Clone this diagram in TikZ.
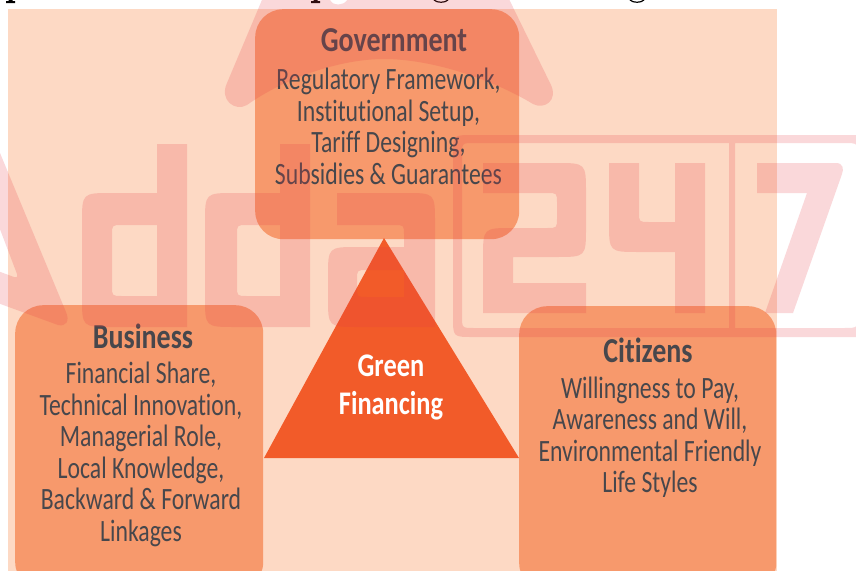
\documentclass[tikz,border=0pt]{standalone}
\usepackage{fontspec}
\setmainfont[FakeStretch=0.765,Ligatures=NoCommon]{Carlito}
\newfontfamily\headf[FakeStretch=0.80,Ligatures=NoCommon]{Carlito}
\tikzset{
  every picture/.style={x=1pt,y=-1pt},
  panel/.style={rectangle,rounded corners=28pt,fill=panelc,draw=none,inner sep=0pt,anchor=north west},
  heading/.style={anchor=center,align=center,text=inkc,font=\headf\fontsize{35}{38}\selectfont\bfseries},
  body/.style={anchor=north,align=center,text=inkc,font=\fontsize{31}{31.6}\selectfont},
  centre/.style={anchor=center,align=center,text=white,font=\headf\fontsize{33}{38}\selectfont\bfseries},
  wm/.style={fill=wmc,fill opacity=0.2,even odd rule,draw=none},
}
\definecolor{bgc}{HTML}{FDD9C4}
\definecolor{panelc}{HTML}{F7996C}
\definecolor{triac}{HTML}{F25B29}
\definecolor{inkc}{HTML}{47474C}
\definecolor{wmc}{RGB}{230,60,70}
\begin{document}
\begin{tikzpicture}
\useasboundingbox (0,0) rectangle (856,570);
\clip (0,0) rectangle (856,570);
\fill[white] (0,0) rectangle (856,570);
% cut-off remains of a line above the figure
\fill[black] (6,3) rectangle (15,1) (8.5,1) rectangle (12.5,0);
\fill[black] (311,3) rectangle (320,1) (313.5,1) rectangle (317.5,0);
\draw[black,line width=1.2pt] (434,0) .. controls (437,3) and (445,3) .. (448,0);
\draw[black,line width=1.2pt] (630,0) .. controls (633,3) and (641,3) .. (644,0);
% backdrop
\node[fill=bgc,inner sep=0pt,minimum width=769pt,minimum height=570pt,anchor=north west] (backdrop) at (8,9) {};
% panels
\node[panel,minimum width=264pt,minimum height=230pt] (gov) at (255,9) {};
\node[panel,minimum width=248pt,minimum height=285pt] (bus) at (15,305) {};
\node[panel,minimum width=257pt,minimum height=285pt] (cit) at (519,306) {};
% triangle
\fill[triac] (384,238) -- (519,458) -- (264,458) -- cycle;
% texts
\node[heading] (govh) at (394,40) {Government};
\node[body] (govt) at (388.5,64.5) {Regulatory Framework,\\Institutional Setup,\\Tariff Designing,\\Subsidies \& Guarantees};
\node[heading] (bush) at (143,336) {Business};
\node[body] (bust) at (141,358.5) {Financial Share,\\Technical Innovation,\\Managerial Role,\\Local Knowledge,\\Backward \& Forward\\Linkages};
\node[heading] (cith) at (648,350) {Citizens};
\node[body] (citt) at (650,373) {Willingness to Pay,\\Awareness and Will,\\Environmental Friendly\\Life Styles};
\node[centre] (green) at (391,387) {Green\\Financing};
% watermark
% A
\fill[wm] (-5,141) -- (66,312) .. controls (70,321) and (66,327) .. (58,325) -- (-5,302) -- (-5,270) -- (14,277) .. controls (17,278) and (18,276) .. (17,274) -- (-5,216) -- cycle;
% d
\fill[wm] (157,144) -- (187,144) -- (187,327) -- (112,327) .. controls (82,327) .. (82,297) -- (82,223) .. controls (82,193) .. (112,193) -- (157,193) -- cycle
  (157,225) -- (122,225) .. controls (112,225) .. (112,235) -- (112,286) .. controls (112,296) .. (122,296) -- (157,296) -- cycle;
% d
\fill[wm] (280,144) -- (310,144) -- (310,327) -- (235,327) .. controls (205,327) .. (205,297) -- (205,223) .. controls (205,193) .. (235,193) -- (280,193) -- cycle
  (280,225) -- (247,225) .. controls (237,225) .. (237,235) -- (237,286) .. controls (237,296) .. (247,296) -- (280,296) -- cycle;
% a
\fill[wm] (337,193) -- (405,193) .. controls (435,193) .. (435,223) -- (435,327) -- (358,327) .. controls (328,327) .. (328,297) -- (328,277) .. controls (328,247) .. (358,247) -- (404,247) -- (404,235) .. controls (404,225) .. (394,225) -- (337,225) -- cycle
  (404,270) -- (367,270) .. controls (357,270) .. (357,280) -- (357,287) .. controls (357,297) .. (367,297) -- (404,297) -- cycle;
% 2
\fill[wm] (483,163) -- (556,163) .. controls (586,163) .. (586,193) -- (586,227) .. controls (586,257) .. (556,257) -- (513,257) -- (513,283) -- (586,283) -- (586,313) -- (483,313) -- (483,258) .. controls (483,228) .. (513,228) -- (547,228) .. controls (557,228) .. (557,218) -- (557,203) .. controls (557,193) .. (547,193) -- (483,193) -- cycle;
% 4
\fill[wm] (609,163) -- (639,163) -- (639,212) .. controls (639,222) .. (649,222) -- (675,222) -- (675,163) -- (705,163) -- (705,313) -- (675,313) -- (675,252) -- (639,252) .. controls (609,252) .. (609,222) -- cycle;
% 7
\fill[wm] (757,163) -- (836,163) .. controls (843,163) and (844,169) .. (842,174) -- (793,313) -- (765,313) -- (807,193) -- (757,193) -- cycle;
% frame
\fill[wm] (473,135) -- (880,135) -- (880,337) -- (473,337) .. controls (453,337) .. (453,317) -- (453,155) .. controls (453,135) .. (473,135) -- cycle
  (474,143) -- (729,143) -- (729,328) -- (474,328) .. controls (462,328) .. (462,316) -- (462,155) .. controls (462,143) .. (474,143) -- cycle
  (735,143) -- (844,143) .. controls (858,143) .. (858,157) -- (858,314) .. controls (858,328) .. (844,328) -- (735,328) -- cycle;
% roof
\fill[wm] (283,-50) -- (485,-50) -- (551,85) .. controls (558,100) and (545,110) .. (533,104) .. controls (490,78) and (430,59) .. (384,59) .. controls (340,59) and (285,78) .. (247,105) .. controls (235,112) and (219,100) .. (227,83) -- cycle;
% notch in the roof at the top edge
\fill[white] (330,0) .. controls (333,6) and (343,6) .. (347,0) -- cycle;
\end{tikzpicture}
\end{document}
